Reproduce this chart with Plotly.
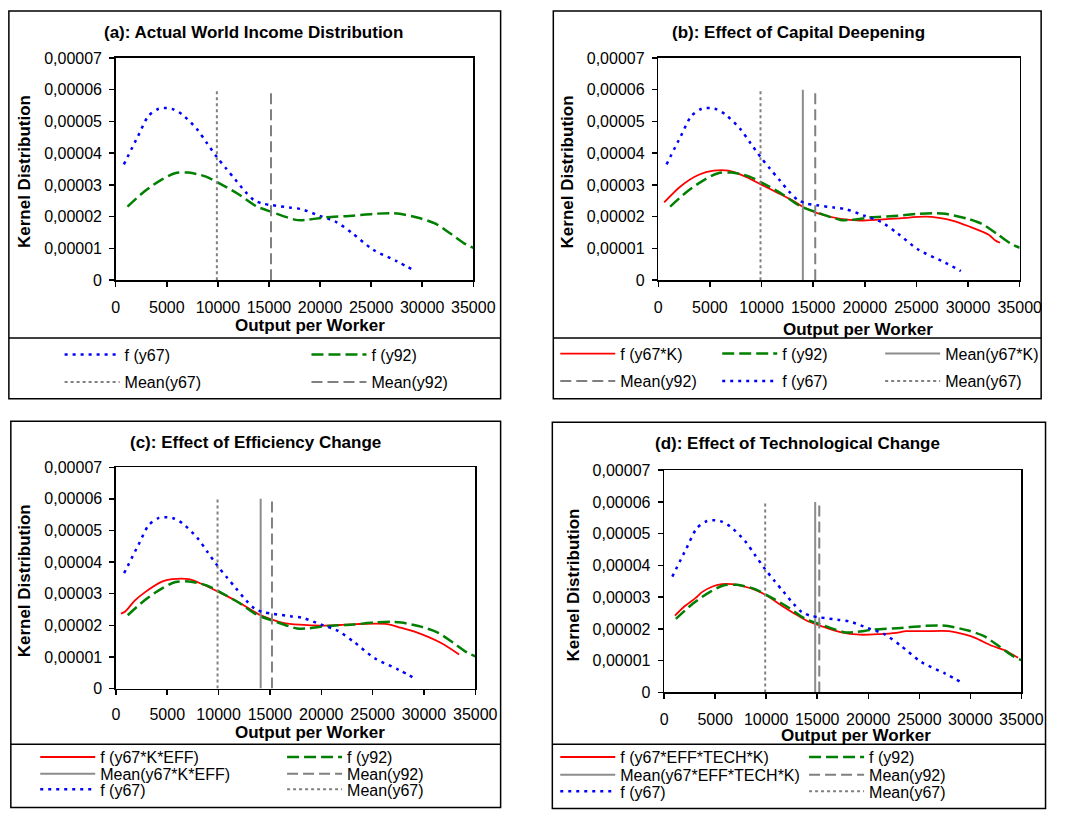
import plotly.graph_objects as go

# reference canvas: all layout positions below are in these pixels and are
# converted to paper fractions; the figure fills the page it is drawn in.
REF_W, REF_H = 1069, 818

# ---------------- data ----------------
x_y67 = [800, 2200, 3200, 4200, 5000, 5650, 6500, 7950, 8900, 9900, 10800, 11700, 12700, 13500,
         14300, 15350, 17000, 18140, 19950, 21600, 23200, 25200, 27500, 29300]
f_y67 = [3.65e-5, 4.55e-5, 5.17e-5, 5.40e-5, 5.42e-5, 5.38e-5, 5.22e-5, 4.76e-5, 4.33e-5, 3.88e-5,
         3.52e-5, 3.17e-5, 2.78e-5, 2.53e-5, 2.42e-5, 2.36e-5, 2.29e-5, 2.24e-5, 2.03e-5, 1.83e-5,
         1.47e-5, 0.96e-5, 0.60e-5, 0.29e-5]

x_y92 = [1150, 2860, 4500, 5800, 7130, 8770, 10100, 12060, 13700, 15350, 17650, 18600, 20600, 23200,
         25200, 26850, 27800, 29800, 31300, 32760, 34100, 35000]
f_y92 = [2.32e-5, 2.81e-5, 3.17e-5, 3.37e-5, 3.39e-5, 3.27e-5, 3.06e-5, 2.70e-5, 2.34e-5, 2.14e-5,
         1.90e-5, 1.90e-5, 1.98e-5, 2.03e-5, 2.09e-5, 2.11e-5, 2.09e-5, 1.95e-5, 1.78e-5, 1.47e-5,
         1.16e-5, 1.02e-5]

x_y67K = [570, 2170, 3920, 5360, 6790, 8380, 9980, 11570, 13170, 14120, 15400, 17630, 19540, 21450,
          23370, 25920, 27190, 28470, 30060, 31970, 32610, 33090]
f_y67K = [2.45e-5, 2.96e-5, 3.32e-5, 3.45e-5, 3.45e-5, 3.27e-5, 3.01e-5, 2.75e-5, 2.48e-5, 2.29e-5,
          2.11e-5, 1.93e-5, 1.88e-5, 1.91e-5, 1.95e-5, 2.00e-5, 1.96e-5, 1.88e-5, 1.70e-5, 1.44e-5,
          1.26e-5, 1.18e-5]

x_y67KE = [490, 880, 1860, 2850, 4480, 5460, 7100, 8410, 10040, 12000, 13970, 15280, 16260, 17890,
           20180, 21820, 23450, 26400, 27700, 29020, 31630, 33430]
f_y67KE = [2.37e-5, 2.43e-5, 2.79e-5, 3.05e-5, 3.38e-5, 3.46e-5, 3.46e-5, 3.30e-5, 3.05e-5, 2.72e-5,
           2.34e-5, 2.17e-5, 2.08e-5, 2.02e-5, 1.99e-5, 2.01e-5, 2.04e-5, 2.04e-5, 1.93e-5,
           1.81e-5, 1.45e-5, 1.08e-5]

x_y67KET = [1060, 1940, 3060, 3710, 4680, 5650, 6610, 7580, 8870, 10160, 11450, 12740, 14030, 15320,
            17260, 19190, 21130, 22740, 23710, 25650, 27900, 29520, 30480, 32100, 33390, 34680]
f_y67KET = [2.42e-5, 2.70e-5, 2.97e-5, 3.16e-5, 3.33e-5, 3.41e-5, 3.41e-5, 3.36e-5, 3.24e-5, 3.03e-5,
            2.75e-5, 2.49e-5, 2.25e-5, 2.10e-5, 1.90e-5, 1.82e-5, 1.84e-5, 1.88e-5, 1.93e-5, 1.93e-5,
            1.93e-5, 1.82e-5, 1.72e-5, 1.47e-5, 1.33e-5, 1.09e-5]

mean_y67 = 9900
mean_y92 = 15200
mean_y67K = 14000
mean_y67KE = 14100
mean_y67KET = 14800
mean_line_span = [0, 6e-5]

x_tickvals = [0, 5000, 10000, 15000, 20000, 25000, 30000, 35000]
x_ticktext = ["0", "5000", "10000", "15000", "20000", "25000", "30000", "35000"]
y_tickvals = [0, 1e-5, 2e-5, 3e-5, 4e-5, 5e-5, 6e-5, 7e-5]
y_ticktext = ["0", "0,00001", "0,00002", "0,00003", "0,00004", "0,00005", "0,00006", "0,00007"]

titles = ["(a): Actual World Income Distribution", "(b): Effect of Capital Deepening",
          "(c): Effect of Efficiency Change", "(d): Effect of Technological Change"]
x_title = "Output per Worker"
y_title = "Kernel Distribution"

FONT = "Liberation Sans, Arial, sans-serif"


def px(v):
    return v / REF_W


def py(v):
    return 1 - v / REF_H


BLUE = dict(color="#0000FF", width=2.5, dash="3px,5px")
GREEN = dict(color="#008000", width=2.5, dash="12px,5px")
RED = dict(color="#FF0000", width=1.8)
GRAY_SOLID = dict(color="#8C8C8C", width=2)
GRAY_DASH = dict(color="#808080", width=2, dash="11px,5px")
GRAY_DOT = dict(color="#808080", width=2, dash="3px,3px")

# panel geometry (reference pixels)
panels = [
    dict(plot=(114.5, 481, 51, 278), box=(5, 509, 3, 399), div=337,
         title=(256, 25), xt=(314, 324), yt=(21, 167), xlab_pad=7),
    dict(plot=(670.6, 1041, 51, 278), box=(563, 1063, 3, 399), div=337,
         title=(814, 25), xt=(875, 328), yt=(578, 167), xlab_pad=7),
    dict(plot=(114.7, 483, 469, 695), box=(7, 509, 422, 816.5), div=752,
         title=(258, 444), xt=(314, 740), yt=(21, 585), xlab_pad=6),
    dict(plot=(676.6, 1042.7, 472, 699), box=(562, 1067.5, 423, 817.5), div=752,
         title=(813, 445), xt=(873, 743), yt=(584, 589), xlab_pad=7),
]


def mean_x(m):
    return [m, m]


panel_traces = [
    [
        ("f (y67)", x_y67, f_y67, BLUE, (62, 354)),
        ("f (y92)", x_y92, f_y92, GREEN, (315, 354)),
        ("Mean(y67)", mean_x(mean_y67), mean_line_span, GRAY_DOT, (62, 382)),
        ("Mean(y92)", mean_x(mean_y92), mean_line_span, GRAY_DASH, (315, 382)),
    ],
    [
        ("f (y67*K)", x_y67K, f_y67K, RED, (570, 353)),
        ("f (y92)", x_y92, f_y92, GREEN, (736, 353)),
        ("Mean(y67*K)", mean_x(mean_y67K), mean_line_span, GRAY_SOLID, (903, 353)),
        ("Mean(y92)", mean_x(mean_y92), mean_line_span, GRAY_DASH, (570, 381)),
        ("f (y67)", x_y67, f_y67, BLUE, (736, 381)),
        ("Mean(y67)", mean_x(mean_y67), mean_line_span, GRAY_DOT, (903, 381)),
    ],
    [
        ("f (y67*K*EFF)", x_y67KE, f_y67KE, RED, (37, 765)),
        ("f (y92)", x_y92, f_y92, GREEN, (290, 765)),
        ("Mean(y67*K*EFF)", mean_x(mean_y67KE), mean_line_span, GRAY_SOLID, (37, 782)),
        ("Mean(y92)", mean_x(mean_y92), mean_line_span, GRAY_DASH, (290, 782)),
        ("f (y67)", x_y67, f_y67, BLUE, (37, 798)),
        ("Mean(y67)", mean_x(mean_y67), mean_line_span, GRAY_DOT, (290, 798)),
    ],
    [
        ("f (y67*EFF*TECH*K)", x_y67KET, f_y67KET, RED, (570, 765)),
        ("f (y92)", x_y92, f_y92, GREEN, (825, 765)),
        ("Mean(y67*EFF*TECH*K)", mean_x(mean_y67KET), mean_line_span, GRAY_SOLID, (570, 783)),
        ("Mean(y92)", mean_x(mean_y92), mean_line_span, GRAY_DASH, (825, 783)),
        ("f (y67)", x_y67, f_y67, BLUE, (570, 800)),
        ("Mean(y67)", mean_x(mean_y67), mean_line_span, GRAY_DOT, (825, 800)),
    ],
]

fig = go.Figure()
layout = dict(autosize=True, margin=dict(l=0, r=0, t=0, b=0, pad=0),
              paper_bgcolor="white", plot_bgcolor="white",
              font=dict(family=FONT, size=16, color="black"))
shapes = []
annotations = []

leg_idx = 0
for i, (p, trs) in enumerate(zip(panels, panel_traces)):
    n = i + 1
    xa = "xaxis" if n == 1 else f"xaxis{n}"
    ya = "yaxis" if n == 1 else f"yaxis{n}"
    xref = "x" if n == 1 else f"x{n}"
    yref = "y" if n == 1 else f"y{n}"
    x0, x1, y0, y1 = p["plot"]
    layout[xa] = dict(domain=[px(x0), px(x1)], range=[0, 35000], anchor=yref,
                      tickvals=x_tickvals, ticktext=x_ticktext, ticks="outside", ticklen=5,
                      tickwidth=1.5, tickcolor="black", showline=True, linecolor="black",
                      linewidth=1.5, mirror=True, showgrid=False, zeroline=False,
                      ticklabelstandoff=p["xlab_pad"], tickfont=dict(size=16))
    layout[ya] = dict(domain=[py(y1), py(y0)], range=[0, 7e-5], anchor=xref,
                      tickvals=y_tickvals, ticktext=y_ticktext, ticks="outside", ticklen=5,
                      tickwidth=1.5, tickcolor="black", showline=True, linecolor="black",
                      linewidth=1.5, mirror=True, showgrid=False, zeroline=False,
                      ticklabelstandoff=4, tickfont=dict(size=16))
    for name, xs, ys, line, (lx, ly) in trs:
        leg_idx += 1
        lname = "legend" if leg_idx == 1 else f"legend{leg_idx}"
        fig.add_trace(go.Scatter(x=xs, y=ys, mode="lines", name=name, line=line,
                                 line_shape="spline", line_smoothing=0.8,
                                 xaxis=xref, yaxis=yref,
                                 legend=lname, showlegend=True, hoverinfo="skip"))
        layout[lname] = dict(x=px(lx - 5), y=py(ly), xanchor="left", yanchor="middle",
                             orientation="v", bgcolor="rgba(0,0,0,0)", borderwidth=0,
                             itemwidth=55, font=dict(family=FONT, size=16, color="black"),
                             tracegroupgap=0)
    bx0, bx1, by0, by1 = p["box"]
    shapes.append(dict(type="rect", xref="paper", yref="paper", x0=px(bx0), x1=px(bx1),
                       y0=py(by1), y1=py(by0), line=dict(color="black", width=1.5)))
    shapes.append(dict(type="line", xref="paper", yref="paper", x0=px(bx0), x1=px(bx1),
                       y0=py(p["div"]), y1=py(p["div"]), line=dict(color="black", width=1.5)))
    annotations.append(dict(text=f"<b>{titles[i]}</b>", x=px(p["title"][0]), y=py(p["title"][1]),
                            xref="paper", yref="paper", xanchor="center", yanchor="middle",
                            showarrow=False, borderpad=0, font=dict(family=FONT, size=17)))
    annotations.append(dict(text=f"<b>{x_title}</b>", x=px(p["xt"][0]), y=py(p["xt"][1]),
                            xref="paper", yref="paper", xanchor="center", yanchor="middle",
                            showarrow=False, borderpad=0, font=dict(family=FONT, size=17)))
    annotations.append(dict(text=f"<b>{y_title}</b>", x=px(p["yt"][0]), y=py(p["yt"][1]),
                            xref="paper", yref="paper", xanchor="center", yanchor="middle",
                            textangle=-90, showarrow=False, borderpad=0,
                            font=dict(family=FONT, size=17)))

layout["shapes"] = shapes
layout["annotations"] = annotations
fig.update_layout(**layout)
fig.write_html(
    "out.html",
    config={"displayModeBar": False, "staticPlot": True, "responsive": True},
    default_width="100vw",
    default_height="100vh",
    post_script="document.body.style.margin='0';document.body.style.padding='0';"
                "document.documentElement.style.overflow='hidden';"
                "document.body.style.overflow='hidden';",
)
